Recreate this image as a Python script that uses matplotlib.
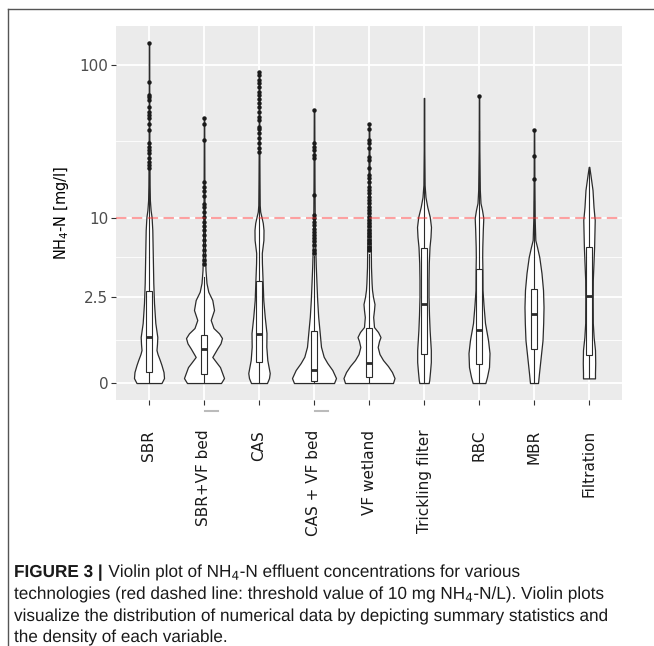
import numpy as np
import matplotlib
matplotlib.use('Agg')
import matplotlib.pyplot as plt
from matplotlib.font_manager import FontProperties
from matplotlib.lines import Line2D
from matplotlib.patches import Rectangle, PathPatch
from matplotlib.textpath import TextPath
from matplotlib.transforms import blended_transform_factory, Affine2D

# categories on the x axis
categories = ['SBR', 'SBR+VF bed', 'CAS', 'CAS + VF bed', 'VF wetland',
              'Trickling filter', 'RBC', 'MBR', 'Filtration']

# violin outlines: NH4-N values [mg/l] where the outline was read,
# and the half width of the violin there (category units)
violin_values = [
    [0, 0.075, 0.173, 0.299, 0.396, 0.523, 0.614, 0.761, 0.95, 1.16, 1.388, 2.19, 3.27, 5.89, 8.21, 10.1, 11.3, 13.2, 16.7, 28.4, 59.7, 137],
    [0, 0.075, 0.26, 0.36, 0.46, 0.654, 0.779, 0.921, 1.057, 1.221, 1.495, 1.884, 2.334, 2.76, 3.267, 4.153, 5.888, 10.12, 18.0, 45.5],
    [0, 0.075, 0.156, 0.396, 0.693, 1.066, 1.617, 2.334, 3.267, 4.704, 5.595, 6.964, 8.208, 9.19, 10.12, 11.0, 12.2, 18.0, 28.4, 90.5],
    [0, 0.075, 0.208, 0.337, 0.465, 0.693, 1.066, 1.617, 2.334, 3.267, 4.405, 5.888, 10.12, 18.0, 51.5],
    [0, 0.075, 0.173, 0.28, 0.396, 0.523, 0.686, 0.839, 0.949, 1.096, 1.254, 1.606, 1.884, 2.146, 2.483, 2.855, 3.267, 4.382, 5.888, 10.12, 18.0, 41.7],
    [0, 0.0445, 0.173, 0.356, 0.614, 1.158, 1.683, 2.48, 3.46, 4.70, 6.20, 7.32, 8.62, 10.12, 11.85, 13.86, 16.7, 28.4, 61.5],
    [0, 0.091, 0.261, 0.545, 0.866, 1.388, 2.10, 2.855, 4.15, 5.22, 6.20, 8.21, 9.96, 11.3, 12.62, 15.45, 28.4, 63.6],
    [0, 0.156, 0.458, 0.866, 1.388, 2.011, 2.855, 3.93, 5.22, 6.20, 6.96, 9.64, 18.0, 38.3],
    [0.07, 0.156, 0.337, 0.614, 0.949, 1.388, 2.33, 3.46, 6.20, 8.21, 9.64, 11.85, 15.45, 19.4, 22.0],
]
violin_halfwidths = [
    [0.227, 0.273, 0.264, 0.227, 0.196, 0.155, 0.136, 0.145, 0.151, 0.133, 0.115, 0.091, 0.078, 0.067, 0.06, 0.047, 0.029, 0.016, 0.011, 0.007, 0.005, 0.004],
    [0.309, 0.364, 0.291, 0.218, 0.151, 0.242, 0.3, 0.327, 0.273, 0.173, 0.122, 0.182, 0.151, 0.078, 0.045, 0.027, 0.018, 0.011, 0.007, 0.004],
    [0.145, 0.182, 0.195, 0.151, 0.133, 0.136, 0.104, 0.078, 0.067, 0.053, 0.051, 0.08, 0.082, 0.069, 0.045, 0.022, 0.013, 0.009, 0.006, 0.004],
    [0.364, 0.4, 0.333, 0.242, 0.176, 0.127, 0.104, 0.076, 0.058, 0.045, 0.033, 0.024, 0.013, 0.009, 0.005],
    [0.436, 0.464, 0.418, 0.345, 0.255, 0.191, 0.158, 0.182, 0.209, 0.164, 0.091, 0.076, 0.091, 0.1, 0.073, 0.055, 0.047, 0.036, 0.033, 0.022, 0.011, 0.005],
    [0.085, 0.095, 0.109, 0.124, 0.124, 0.102, 0.091, 0.082, 0.082, 0.087, 0.1, 0.118, 0.127, 0.105, 0.06, 0.027, 0.011, 0.005, 0.004],
    [0.115, 0.145, 0.182, 0.191, 0.164, 0.109, 0.082, 0.064, 0.062, 0.058, 0.06, 0.069, 0.078, 0.055, 0.027, 0.015, 0.006, 0.004],
    [0.073, 0.091, 0.122, 0.155, 0.167, 0.173, 0.164, 0.136, 0.096, 0.055, 0.024, 0.013, 0.007, 0.004],
    [0.109, 0.109, 0.113, 0.109, 0.084, 0.069, 0.067, 0.069, 0.093, 0.1, 0.104, 0.082, 0.064, 0.027, 0.005],
]

# boxplot summary per category [mg/l]
q1 = [0.17, 0.14, 0.35, 0.034, 0.096, 0.534, 0.311, 0.631, 0.51]
median = [0.95, 0.645, 1.05, 0.216, 0.342, 2.137, 1.151, 1.714, 2.56]
q3 = [2.80, 1.007, 3.41, 1.127, 1.237, 6.12, 4.20, 2.895, 6.23]
whisker_lo = [0, 0, 0, 0, 0, 0, 0, 0, 0.07]
whisker_hi = [21, 3.66, 26.3, 5.31, 5.50, 61.5, 38, 13, 22.0]

outliers = [
    [137, 78, 64.5, 62.5, 59.7, 53.8, 49.9, 47.8, 45.5, 41.8, 38.3, 31.5, 29.5, 28.4, 27.0, 25.2, 23.7, 22.6, 21.6],
    [45.5, 41.9, 33.0, 17.5, 16.3, 15.1, 14.0, 12.5, 11.9, 11.0, 10.2, 9.4, 8.7, 8.2, 7.6, 7.0, 6.4, 5.9, 5.4, 5.0, 4.65],
    [90.5, 86.3, 80.2, 76.4, 72.0, 67.5, 64.3, 60.3, 56.9, 53.6, 50.2, 46.6, 44.4, 40.2, 38.7, 36.4, 33.8, 31.4, 29.1, 27.7],
    [51.5, 31.4, 29.8, 28.4, 26.3, 25.1, 14.3, 10.45, 9.9, 9.4, 8.9, 8.4, 8.0, 7.6, 7.2, 6.8, 6.4, 5.9, 5.6],
    [41.7, 38.7, 33.0, 31.4, 29.1, 25.7, 24.4, 21.5, 19.4, 18.5, 17.5, 16.3, 15.4, 14.7, 13.9, 13.2, 12.6, 11.9, 11.3, 10.7,
     10.2, 9.6, 9.2, 8.7, 8.2, 7.8, 7.4, 7.0, 6.6, 6.2, 5.9],
    [],
    [63.6],
    [38.3, 25.9, 18.3],
    [],
]

threshold = 10
y_ticks = [0, 2.5, 10, 100]
y_ticklabels = ['0', '2.5', '10', '100']
y_minor = [0.87, 5.2, 32.3]

caption_head = 'FIGURE 3 |'
caption_lines = [
    'Violin plot of NH$_4$-N effluent concentrations for various',
    'technologies (red dashed line: threshold value of 10 mg NH$_4$-N/L). Violin plots',
    'visualize the distribution of numerical data by depicting summary statistics and',
    'the density of each variable.',
]

W, H = 654, 646
fig = plt.figure(figsize=(W / 100, H / 100), dpi=100)
ax = fig.add_axes([116 / W, 1 - 400 / H, (622 - 116) / W, (400 - 26) / H])

# pseudo-log y axis, log10(x + 1)
ax.set_yscale('function', functions=(lambda v: np.log10(np.maximum(v, -0.999) + 1),
                                     lambda t: 10 ** t - 1))
ax.set_ylim(-0.218, 176.6)
ax.set_xlim(0.4, 9.6)

ax.set_facecolor('#EBEBEB')
for s in ax.spines.values():
    s.set_visible(False)
ax.set_yticks(y_ticks)
ax.set_yticklabels(y_ticklabels)
ax.set_yticks(y_minor, minor=True)
ax.set_xticks(range(1, len(categories) + 1))
ax.set_xticklabels(categories, rotation=90)
ax.grid(which='major', color='white', lw=1.3)
ax.grid(which='minor', axis='y', color='white', lw=0.6)
ax.set_axisbelow(True)
ax.tick_params(which='minor', length=0)
ax.tick_params(axis='y', which='major', length=3.5, width=0.8, color='#333333',
               labelcolor='#4D4D4D', labelsize=11, pad=2)
ax.tick_params(axis='x', which='major', length=3.5, width=0.8, color='#333333',
               labelcolor='#1A1A1A', labelsize=11, pad=18)
ax.set_ylabel(r'NH$_4$-N [mg/l]', fontsize=10.5, labelpad=6)

line_col = '#2B2B2B'
bw = 0.055
for i in range(len(categories)):
    c = i + 1
    v = np.array(violin_values[i])
    w = np.array(violin_halfwidths[i])
    ax.fill_betweenx(v, c - w, c + w, facecolor='white', edgecolor=line_col,
                     lw=0.9, zorder=2)
    ax.plot([c, c], [whisker_lo[i], q1[i]], color=line_col, lw=0.8, zorder=3)
    ax.plot([c, c], [q3[i], whisker_hi[i]], color=line_col, lw=0.8, zorder=3)
    ax.add_patch(Rectangle((c - bw, q1[i]), 2 * bw, q3[i] - q1[i], facecolor='white',
                           edgecolor=line_col, lw=0.8, zorder=3))
    ax.plot([c - bw, c + bw], [median[i], median[i]], color=line_col, lw=2, zorder=4,
            solid_capstyle='butt')
    if outliers[i]:
        ax.plot([c] * len(outliers[i]), outliers[i], 'o', ms=3.2, color='#1A1A1A',
                mec='none', zorder=4)

ax.axhline(threshold, color='#FF3030', alpha=0.45, lw=1.5,
           linestyle=(0, (5, 2.6)), zorder=5)

# little grey marks under two of the x labels
tr = blended_transform_factory(ax.transData, fig.transFigure)
for c in (2, 4):
    ax.plot([c + 0.02, c + 0.25], [1 - 411 / H] * 2, color='#BBBBBB', lw=1.5,
            transform=tr, clip_on=False)

# frame of the figure box
fig.add_artist(Line2D([8 / W, 1], [1 - 9 / H] * 2, color='#555555', lw=1))
fig.add_artist(Line2D([8 / W, 8 / W], [0, 1 - 9 / H], color='#555555', lw=1))

# caption in a condensed look: text paths squeezed horizontally
pt = 100 / 72
cap_prop = FontProperties(family='Liberation Sans', size=12.5)
cap_bold = FontProperties(family='Liberation Sans', size=12.5, weight='bold')
squeeze = 593 / (TextPath((0, 0), caption_lines[2], prop=cap_prop).get_extents().x1 * pt)


def put_text(x, base, s, prop):
    p = TextPath((0, 0), s, prop=prop)
    t = Affine2D().scale(pt * squeeze, pt).translate(x, H - base)
    fig.add_artist(PathPatch(p, transform=t, facecolor='#1A1A1A', edgecolor='none'))
    return x + p.get_extents().x1 * pt * squeeze


baselines = [577, 599, 621, 642]
x_end = put_text(14, baselines[0], caption_head, cap_bold)
put_text(x_end + 7, baselines[0], caption_lines[0], cap_prop)
for line, b in zip(caption_lines[1:], baselines[1:]):
    put_text(14, b, line, cap_prop)

fig.savefig('out.png', dpi=100)
